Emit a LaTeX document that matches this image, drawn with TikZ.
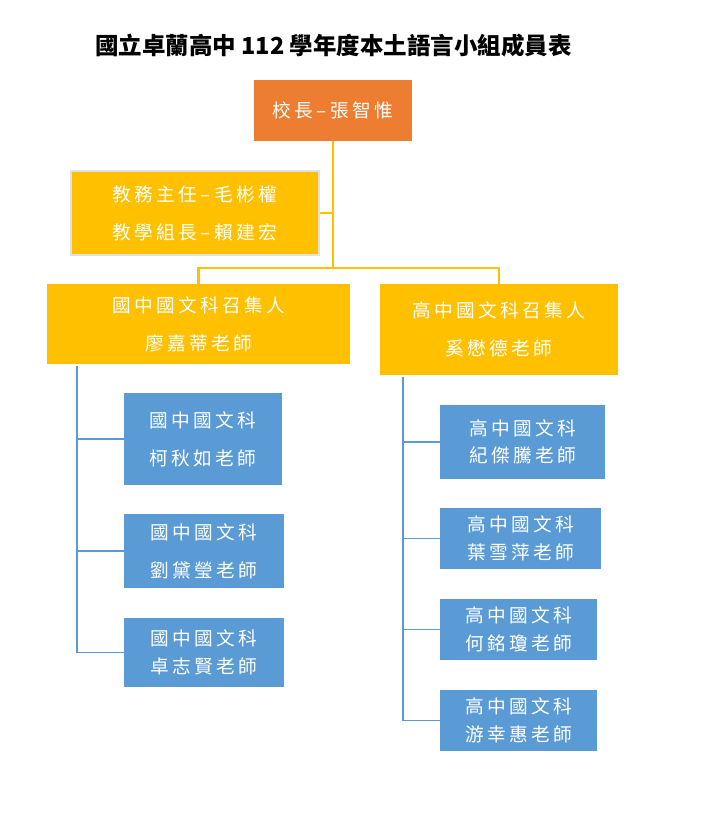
\documentclass[tikz,border=0pt]{standalone}
\usepackage{fontspec}
\setmainfont{Noto Sans CJK TC}
\newfontfamily\boxfont{Noto Sans CJK TC}[LetterSpace=18]
\usetikzlibrary{positioning}
\definecolor{PrincipalOrange}{RGB}{237, 125, 49}
\definecolor{LeadGold}{RGB}{255, 192, 0}
\definecolor{MemberBlue}{RGB}{91, 155, 213}
\definecolor{EdgeGrey}{RGB}{225, 225, 225}

\begin{document}
\begin{tikzpicture}[x=0.75pt, y=-0.75pt,
    box/.style={inner sep=0pt, align=center, text=white},
    loose/.style={font=\boxfont\fontsize{14}{28.5}\selectfont},
    tight/.style={font=\boxfont\fontsize{14}{20.5}\selectfont},
    goldline/.style={draw=LeadGold, line width=1.6pt},
    blueline/.style={draw=MemberBlue, line width=1.4pt}]
    \useasboundingbox (0,0) rectangle (717,813);

    \node (title) at (333.5,46) {\fontsize{17.6}{20}\selectfont\bfseries 國立卓蘭高中 112 學年度本土語言小組成員表};

    \node[box, loose, fill=PrincipalOrange, minimum width=118.5pt, minimum height=45.75pt] (principal) at (333,110.5) {校長–張智惟};
    \node[box, loose, fill=LeadGold, draw=EdgeGrey, line width=1.5pt, minimum width=186pt, minimum height=63pt] (dean) at (195,213) {教務主任–毛彬權\\教學組長–賴建宏};
    \node[box, loose, fill=LeadGold, minimum width=227.25pt, minimum height=60pt] (juniorhead) at (198.5,324) {國中國文科召集人\\廖嘉蒂老師};
    \node[box, loose, fill=LeadGold, minimum width=178.5pt, minimum height=68.25pt] (seniorhead) at (499,329.5) {高中國文科召集人\\奚懋德老師};

    \node[box, loose, fill=MemberBlue, minimum width=118.5pt, minimum height=69pt] (junior1) at (203,439) {國中國文科\\柯秋如老師};
    \node[box, loose, fill=MemberBlue, minimum width=120pt, minimum height=55.5pt] (junior2) at (204,551) {國中國文科\\劉黛瑩老師};
    \node[box, tight, fill=MemberBlue, minimum width=120pt, minimum height=51.75pt] (junior3) at (204,652.5) {國中國文科\\卓志賢老師};

    \node[box, tight, fill=MemberBlue, minimum width=123.75pt, minimum height=55.5pt] (senior1) at (522.5,442) {高中國文科\\紀傑騰老師};
    \node[box, tight, fill=MemberBlue, minimum width=120.75pt, minimum height=45.75pt] (senior2) at (520.5,538.5) {高中國文科\\葉雪萍老師};
    \node[box, tight, fill=MemberBlue, minimum width=117.75pt, minimum height=45.75pt] (senior3) at (518.5,629.5) {高中國文科\\何銘瓊老師};
    \node[box, tight, fill=MemberBlue, minimum width=117.75pt, minimum height=45.75pt] (senior4) at (518.5,720.5) {高中國文科\\游幸惠老師};

    \coordinate (split) at (333,268);
    \draw[goldline] (principal.south) -- (split);
    \draw[goldline] (principal.south |- dean.east) -- (dean.east);
    \draw[goldline] (split) -| (juniorhead.north);
    \draw[goldline] (split) -| (seniorhead.north);

    \coordinate (juniorspine) at (77,366);
    \coordinate (seniorspine) at (403,377);
    \draw[blueline] (juniorspine) |- (junior1.west);
    \draw[blueline] (juniorspine) |- (junior2.west);
    \draw[blueline] (juniorspine) |- (junior3.west);
    \draw[blueline] (seniorspine) |- (senior1.west);
    \draw[blueline] (seniorspine) |- (senior2.west);
    \draw[blueline] (seniorspine) |- (senior3.west);
    \draw[blueline] (seniorspine) |- (senior4.west);
\end{tikzpicture}
\end{document}
